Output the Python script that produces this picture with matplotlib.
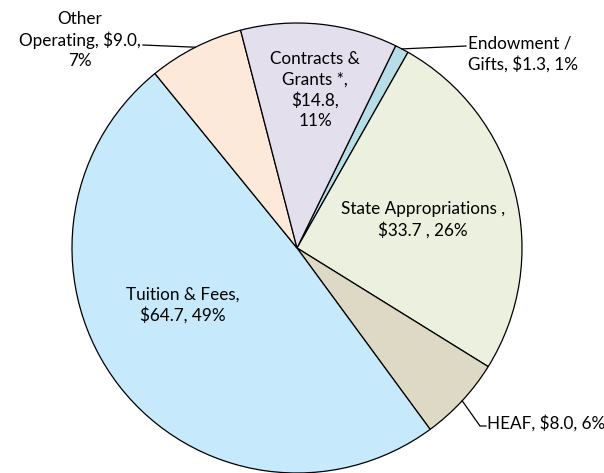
import numpy as np
import matplotlib
matplotlib.use("Agg")
import matplotlib.pyplot as plt

categories = ["Endowment /\nGifts", "State Appropriations ", "HEAF", "Tuition & Fees",
              "Other\nOperating", "Contracts &\nGrants *"]
values = [1.3, 33.7, 8.0, 64.7, 9.0, 14.8]
label_texts = ["Endowment /\nGifts, $1.3, 1%",
               "State Appropriations ,\n$33.7 , 26%",
               "HEAF, $8.0, 6%",
               "Tuition & Fees,\n$64.7, 49%",
               "Other\nOperating, $9.0,\n7%",
               "Contracts &\nGrants *,\n$14.8,\n11%"]
colors = ["#b7dee8", "#ebf1de", "#ddd9c4", "#c6e9fc", "#fde9d9", "#e4dfec"]

W, H, DPI = 604, 473, 100
CX, CY, R = 297, 248, 225

def px(x, y):
    return ((x - CX) / R, (CY - y) / R)

plt.rcParams['font.family'] = ['Lato', 'DejaVu Sans']
fig = plt.figure(figsize=(W / DPI, H / DPI), dpi=DPI)
ax = fig.add_axes([0, 0, 1, 1])

wedges, _ = ax.pie(values, colors=colors, startangle=64, counterclock=False,
                   radius=1.0, center=(0, 0),
                   wedgeprops=dict(edgecolor='black', linewidth=0.9))
ax.set_xlim(px(0, 0)[0], px(W, 0)[0])
ax.set_ylim(px(0, H)[1], px(0, 0)[1])
ax.set_aspect('equal')
ax.axis('off')

fs = 12.3
ls = 1.32
def mid_point(w, r=1.0):
    a = np.deg2rad((w.theta1 + w.theta2) / 2)
    return r * np.cos(a), r * np.sin(a)

# Inside labels
ax.text(*px(315, 90), label_texts[5], ha='center', va='center', fontsize=fs, linespacing=ls)
ax.text(*px(423, 220), label_texts[1], ha='center', va='center', fontsize=fs, linespacing=ls)
ax.text(*px(183, 305), label_texts[3], ha='center', va='center', fontsize=fs, linespacing=ls)

# Outside labels with leaders
# Endowment
p0 = mid_point(wedges[0])
p1 = px(466, 46)
ax.plot([p0[0], p1[0]], [p0[1], p1[1]], color='black', lw=0.9)
ax.text(*px(468, 54), label_texts[0], ha='left', va='center', fontsize=fs, linespacing=ls)

# HEAF
p0 = mid_point(wedges[2])
p1 = px(480, 426)
p2 = px(486, 426)
ax.plot([p0[0], p1[0], p2[0]], [p0[1], p1[1], p2[1]], color='black', lw=0.9)
ax.text(*px(487, 423), label_texts[2], ha='left', va='center', fontsize=fs)

# Other Operating
p0 = mid_point(wedges[4])
p1 = px(143, 45)
ax.plot([p0[0], p1[0]], [p0[1], p1[1]], color='black', lw=0.9)
ax.text(*px(80, 40), label_texts[4], ha='center', va='center', fontsize=fs, linespacing=ls)

fig.savefig("out.png", dpi=DPI)
